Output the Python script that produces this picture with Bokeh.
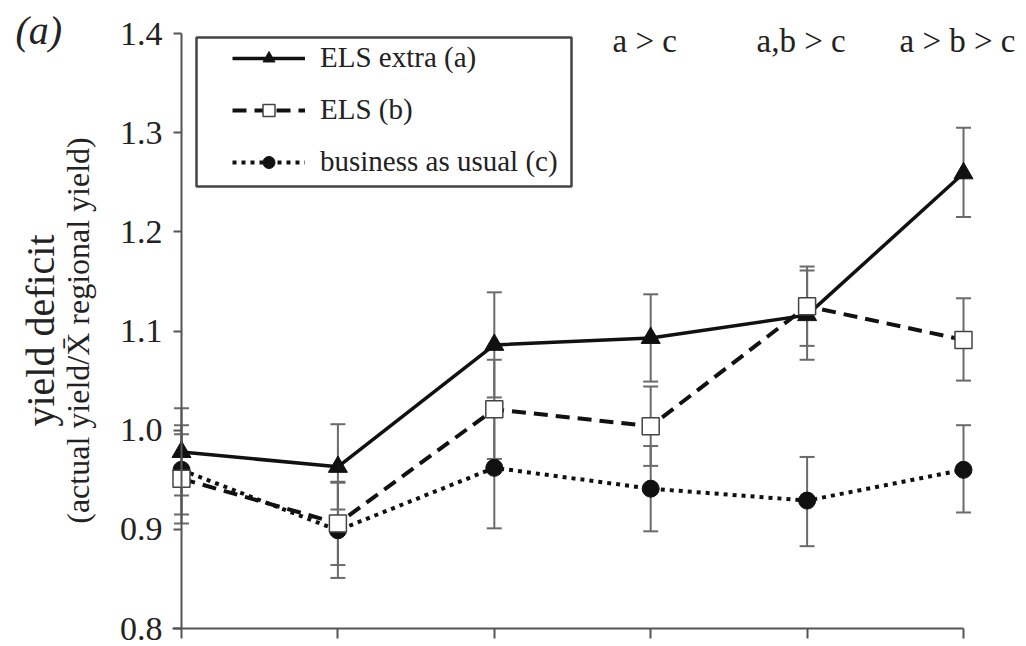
import math
from bokeh.plotting import figure
from bokeh.models import (Range1d, FixedTicker, ColumnDataSource, Whisker, TeeHead,
                          Legend, LegendItem, Label, BoxAnnotation)
from bokeh.core.properties import value
from bokeh.embed import file_html
from bokeh.resources import INLINE

# ---------------- data ----------------
groups = [0, 1, 2, 3, 4, 5]

els_extra = [0.978, 0.963, 1.086, 1.093, 1.116, 1.259]
els_extra_lo = [0.934, 0.920, 1.033, 1.049, 1.071, 1.215]
els_extra_hi = [1.022, 1.006, 1.139, 1.137, 1.161, 1.305]

els = [0.951, 0.906, 1.021, 1.004, 1.125, 1.091]
els_lo = [0.906, 0.864, 0.971, 0.964, 1.085, 1.050]
els_hi = [0.996, 0.948, 1.071, 1.044, 1.165, 1.133]

bau = [0.960, 0.899, 0.962, 0.941, 0.929, 0.960]
bau_lo = [0.915, 0.851, 0.901, 0.898, 0.883, 0.917]
bau_hi = [1.005, 0.947, 1.024, 0.984, 0.973, 1.005]

sig_groups = [3, 4, 5]
sig_labels = ["a > c", "a,b > c", "a > b > c"]

y_ticks = [0.8, 0.9, 1.0, 1.1, 1.2, 1.3, 1.4]
y_tick_labels = ["0.8", "0.9", "1.0", "1.1", "1.2", "1.3", "1.4"]

series_names = ["ELS extra (a)", "ELS (b)", "business as usual (c)"]

# ---------------- layout helpers ----------------
W, H = 1026, 646
SX = (963 - 181) / 5.0        # px per x unit
SY = (628 - 33) / 0.6         # px per y unit
X0 = -181 / SX
X1 = (W - 181) / SX
Y1 = 1.4 + 33 / SY
Y0 = Y1 - H / SY


def px_x(px):
    return X0 + px / SX


def px_y(py):
    return Y1 - py / SY


SERIF = "Liberation Serif"
TXT = "#222222"
AX = "#555555"
ERR = "#6a6a6a"

p = figure(width=W, height=H, x_range=Range1d(X0, X1), y_range=Range1d(Y0, Y1),
           output_backend="svg", toolbar_location=None, min_border=0,
           min_border_left=0, min_border_right=0, min_border_top=0, min_border_bottom=0,
           outline_line_color=None, background_fill_color="white",
           border_fill_color="white")
p.grid.visible = False

# y axis
ya = p.yaxis[0]
ya.fixed_location = 0
ya.bounds = (0.8, 1.4)
ya.ticker = FixedTicker(ticks=y_ticks)
ya.major_label_overrides = {t: l for t, l in zip(y_ticks, y_tick_labels)}
ya.minor_tick_line_color = None
ya.major_tick_in = 0
ya.major_tick_out = 8
ya.axis_line_color = AX
ya.axis_line_width = 2
ya.major_tick_line_color = AX
ya.major_tick_line_width = 2
ya.major_label_text_font = SERIF
ya.major_label_text_font_size = "34px"
ya.major_label_text_color = TXT
ya.major_label_standoff = 11

# x axis (ticks only, no labels)
xa = p.xaxis[0]
xa.fixed_location = 0.8
xa.bounds = (-0.055, 5)
xa.ticker = FixedTicker(ticks=groups)
xa.major_label_overrides = {g: "" for g in groups}
xa.minor_tick_line_color = None
xa.major_tick_in = 0
xa.major_tick_out = 10
xa.axis_line_color = AX
xa.axis_line_width = 2
xa.major_tick_line_color = AX
xa.major_tick_line_width = 2

# error bars
for lo, hi in [(bau_lo, bau_hi), (els_extra_lo, els_extra_hi), (els_lo, els_hi)]:
    src = ColumnDataSource(dict(x=groups, lo=lo, hi=hi))
    w = Whisker(base="x", lower="lo", upper="hi", source=src,
                line_color=ERR, line_width=2,
                upper_head=TeeHead(size=15, line_color=ERR, line_width=2),
                lower_head=TeeHead(size=15, line_color=ERR, line_width=2))
    p.add_layout(w)

# series c (dotted, filled circles)
lc = p.line(groups, bau, line_color="#111111", line_width=4, line_dash="4 5")
mc = p.scatter(groups, bau, marker="circle", size=17, fill_color="#111111",
               line_color="#111111")

# series a (solid, triangles)
la = p.line(groups, els_extra, line_color="#111111", line_width=3.5)
ma = p.scatter(groups, els_extra, marker="triangle", size=19, fill_color="#111111",
               line_color="#111111")

# series b (dashed, open squares)
lb = p.line(groups, els, line_color="#111111", line_width=4, line_dash="14 8")
mb = p.scatter(groups, els, marker="square", size=17, fill_color="white",
               line_color="#444444", line_width=1.5)

# significance labels
p.text(x=sig_groups, y=[px_y(40)] * len(sig_groups), text=sig_labels, x_offset=-6,
       text_align="center", text_baseline="middle",
       text_font=value(SERIF), text_font_size="33px", text_color=TXT)

# legend box
box = BoxAnnotation(left=px_x(196), right=px_x(571), top=px_y(37), bottom=px_y(186),
                    fill_color="white", fill_alpha=1.0, line_color="#444444",
                    line_alpha=1.0, line_width=2.5)
p.add_layout(box)

legend = Legend(items=[LegendItem(label=series_names[0], renderers=[la, ma]),
                       LegendItem(label=series_names[1], renderers=[lb, mb]),
                       LegendItem(label=series_names[2], renderers=[lc, mc])],
                location=(232, H - 178), padding=0, margin=0,
                border_line_alpha=0, background_fill_alpha=0,
                glyph_width=73, glyph_height=30, label_height=30, spacing=19,
                label_standoff=15, label_text_font=SERIF,
                label_text_font_size="29px", label_text_color=TXT)
p.add_layout(legend)

# y axis title (two lines)
p.add_layout(Label(x=px_x(40), y=px_y(330), text="yield deficit", angle=math.pi / 2,
                   text_align="center", text_baseline="middle",
                   text_font=SERIF, text_font_size="40px", text_color=TXT))
p.add_layout(Label(x=px_x(77), y=px_y(330), text="(actual yield/X\u0304 regional yield)",
                   angle=math.pi / 2, text_align="center", text_baseline="middle",
                   text_font=SERIF, text_font_size="32px", text_color=TXT))

# panel letter
p.add_layout(Label(x=px_x(15), y=px_y(30), text="(a)", text_align="left",
                   text_baseline="middle", text_font=SERIF, text_font_style="italic",
                   text_font_size="40px", text_color=TXT))

open("out.html", "w").write(file_html(p, INLINE))
